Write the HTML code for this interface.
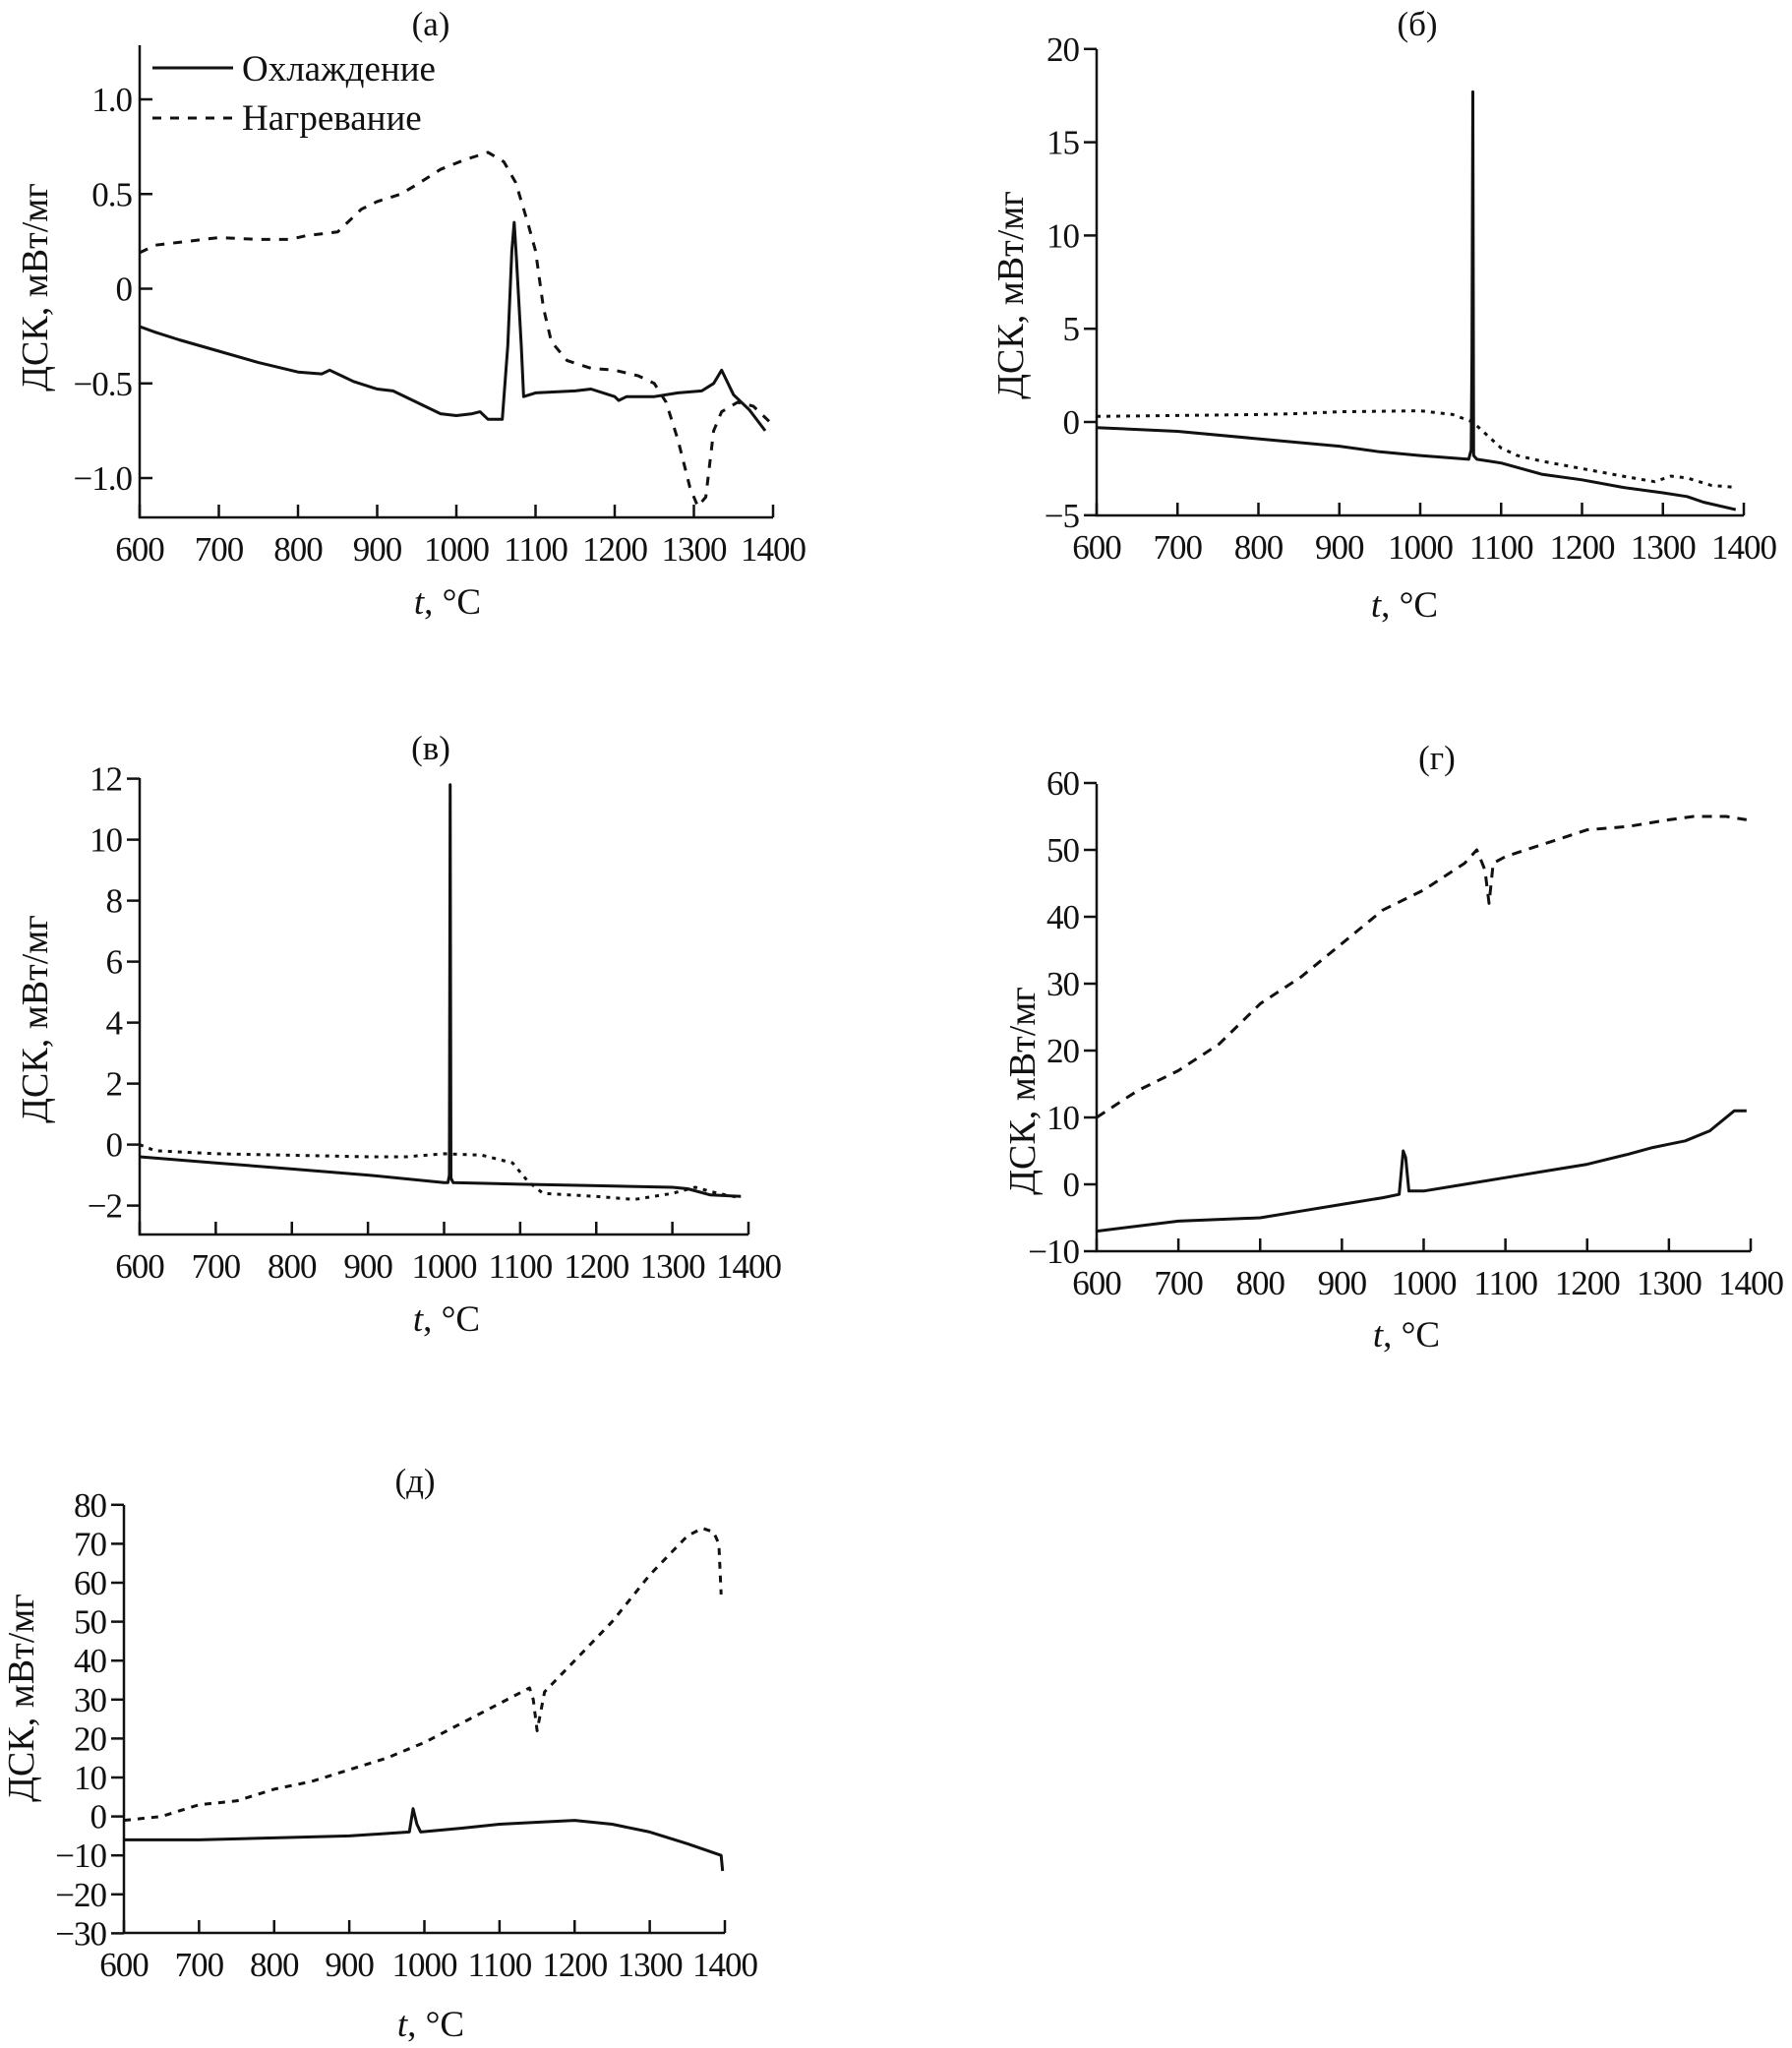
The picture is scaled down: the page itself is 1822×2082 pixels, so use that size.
<!DOCTYPE html>
<html><head><meta charset="utf-8"><style>
html,body{margin:0;padding:0;background:#fff}
svg{display:block}
text{font-family:"Liberation Serif",serif;fill:#111}
</style></head><body>
<svg id="fig" width="1822" height="2082" viewBox="0 0 1822 2082" xmlns="http://www.w3.org/2000/svg"></svg>
<script>
const xTicks=[600,700,800,900,1000,1100,1200,1300,1400];
const aYTicks=[-1.0,-0.5,0,0.5,1.0];
const aYLabels=["\u22121.0","\u22120.5","0","0.5","1.0"];
const bYTicks=[-5,0,5,10,15,20];
const vYTicks=[-2,0,2,4,6,8,10,12];
const gYTicks=[-10,0,10,20,30,40,50,60];
const dYTicks=[-30,-20,-10,0,10,20,30,40,50,60,70,80];

const aCoolT=[600,620,650,700,750,800,830,840,870,900,920,950,980,1000,1020,1030,1040,1058,1065,1070,1073,1076,1082,1085,1100,1150,1170,1200,1205,1215,1250,1280,1310,1325,1335,1350,1370,1390];
const aCoolV=[-0.2,-0.23,-0.27,-0.33,-0.39,-0.44,-0.45,-0.43,-0.49,-0.53,-0.54,-0.6,-0.66,-0.67,-0.66,-0.65,-0.69,-0.69,-0.3,0.2,0.35,0.15,-0.3,-0.57,-0.55,-0.54,-0.53,-0.57,-0.59,-0.57,-0.57,-0.55,-0.54,-0.5,-0.43,-0.56,-0.64,-0.75];
const aHeatT=[600,620,660,700,750,790,810,830,850,880,900,930,950,980,1010,1040,1060,1075,1090,1100,1110,1120,1140,1170,1200,1230,1250,1265,1280,1295,1305,1315,1325,1335,1355,1375,1395];
const aHeatV=[0.19,0.23,0.25,0.27,0.26,0.26,0.28,0.29,0.3,0.42,0.46,0.5,0.55,0.63,0.68,0.72,0.67,0.56,0.35,0.2,-0.1,-0.28,-0.38,-0.42,-0.43,-0.46,-0.5,-0.6,-0.8,-1.05,-1.15,-1.1,-0.75,-0.65,-0.6,-0.62,-0.7];

const bCoolT=[600,700,800,900,950,1000,1060,1063,1064,1065,1066,1070,1100,1150,1200,1250,1300,1330,1350,1390];
const bCoolV=[-0.3,-0.5,-0.9,-1.3,-1.6,-1.8,-2.0,-1.5,3.5,17.7,-1.8,-2.0,-2.2,-2.8,-3.1,-3.5,-3.8,-4.0,-4.3,-4.7];
const bHeatT=[600,700,800,850,900,1000,1040,1065,1080,1100,1120,1150,1200,1250,1290,1310,1330,1360,1390];
const bHeatV=[0.3,0.35,0.4,0.45,0.55,0.6,0.4,0,-0.6,-1.4,-1.8,-2.1,-2.5,-2.9,-3.2,-2.9,-3.0,-3.4,-3.5];

const vCoolT=[600,700,800,900,1000,1005,1007,1008,1009,1012,1100,1200,1300,1320,1350,1390];
const vCoolV=[-0.4,-0.6,-0.8,-1.0,-1.25,-1.25,-1.0,11.8,-1.1,-1.25,-1.3,-1.35,-1.4,-1.45,-1.65,-1.7];
const vHeatT=[600,620,700,800,900,950,1000,1050,1090,1110,1130,1200,1250,1300,1330,1360,1390];
const vHeatV=[0,-0.2,-0.3,-0.35,-0.4,-0.4,-0.3,-0.35,-0.6,-1.2,-1.6,-1.7,-1.8,-1.6,-1.4,-1.6,-1.75];

const gCoolT=[600,700,800,850,900,950,970,975,978,982,1000,1050,1100,1150,1200,1250,1280,1300,1320,1350,1380,1395];
const gCoolV=[-7,-5.5,-5,-4,-3,-2,-1.5,5,4,-1,-1,0,1,2,3,4.5,5.5,6,6.5,8,11,11];
const gHeatT=[600,650,700,750,800,850,900,950,1000,1050,1065,1075,1080,1085,1100,1150,1200,1250,1300,1330,1370,1395];
const gHeatV=[10,14,17,21,27,31,36,41,44,48,50,47,42,48,49,51,53,53.5,54.5,55,55,54.5];

const dCoolT=[600,700,800,900,980,985,990,995,1050,1100,1150,1200,1250,1300,1350,1380,1395,1397];
const dCoolV=[-6,-6,-5.5,-5,-4,2,-2,-4,-3,-2,-1.5,-1,-2,-4,-7,-9,-10,-14];
const dHeatT=[600,650,700,750,800,850,900,950,1000,1050,1100,1140,1145,1150,1160,1200,1250,1300,1350,1370,1385,1392,1395];
const dHeatV=[-1,0,3,4,7,9,12,15,19,24,29,33,30,22,32,40,50,62,72,74,73,70,57];

const NS="http://www.w3.org/2000/svg";
const svg=document.getElementById('fig');
function mk(tag,attrs,parent){const e=document.createElementNS(NS,tag);for(const k in attrs)e.setAttribute(k,attrs[k]);(parent||svg).appendChild(e);return e;}

function panel(p){
  const g=mk('g',{});
  
  
  const sx=t=>p.x0+(t-600)*(p.x1-p.x0)/800;
  const sy=v=>p.y0+(v-p.v0)*(p.y1-p.y0)/(p.v1-p.v0);
  const ax=mk('path',{d:`M${p.x0},${p.top} L${p.x0},${p.bottom} L${p.x1},${p.bottom}`,fill:'none',stroke:'#111','stroke-width':2.5},g);
  
  
  xTicks.forEach(t=>{
    mk('line',{x1:sx(t),x2:sx(t),y1:p.bottom,y2:p.bottom-13,stroke:'#111','stroke-width':2.5},g);
    const tx=mk('text',{x:sx(t),y:p.bottom+44,'text-anchor':'middle','font-size':35,'letter-spacing':-1},g);
    tx.textContent=t;
    
    
  });
  p.yt.forEach((v,i)=>{
    const inward=p.inward;
    mk('line',{x1:p.x0,x2:inward?p.x0+13:p.x0-13,y1:sy(v),y2:sy(v),stroke:'#111','stroke-width':2.5},g);
    const lbl=p.yl?p.yl[i]:(v<0?"\u2212"+Math.abs(v):String(v));
    const tx=mk('text',{x:p.x0-(inward?8:18),y:sy(v)+12,'text-anchor':'end','font-size':35,'letter-spacing':-1},g);
    tx.textContent=lbl;
    
    
  });
  const tt=mk('text',{x:p.tx,y:p.ty,'text-anchor':'middle','font-size':35},g);
  tt.textContent=p.title;
  
  
  const xl=mk('text',{x:p.xlx,y:p.xly,'text-anchor':'middle','font-size':37},g);
  xl.innerHTML='<tspan font-style="italic">t</tspan>, °C';
  
  
  const yl=mk('text',{x:0,y:0,'text-anchor':'middle','font-size':38,transform:`translate(${p.ylx},${p.yly}) rotate(-90)`},g);
  yl.textContent='ДСК, мВт/мг';
  
  
  const line=(T,V,dash,w,name)=>{
    const d=T.map((t,i)=>(i?'L':'M')+sx(t).toFixed(1)+','+sy(V[i]).toFixed(1)).join(' ');
    const e=mk('path',{d:d,fill:'none',stroke:'#111','stroke-width':w,'stroke-dasharray':dash,'stroke-linejoin':'round'},g);
    
    
  };
  line(p.hT,p.hV,p.hdash,3,'heating-series');
  line(p.cT,p.cV,'none',3,'cooling-series');
}

panel({name:'panel-a',x0:142,x1:786,y0:293.5,y1:101,v0:0,v1:1,top:46,bottom:526,yt:aYTicks,yl:aYLabels,inward:true,
  title:'(а)',tx:438,ty:36,xlx:455,xly:624,ylx:48,yly:292,cT:aCoolT,cV:aCoolV,hT:aHeatT,hV:aHeatV,hdash:'9,9'});
panel({name:'panel-b',x0:1115,x1:1773,y0:429,y1:334.2,v0:0,v1:5,top:50,bottom:524,yt:bYTicks,
  title:'(б)',tx:1441,ty:36,xlx:1428,xly:627,ylx:1040,yly:300,cT:bCoolT,cV:bCoolV,hT:bHeatT,hV:bHeatV,hdash:'4,6'});
panel({name:'panel-v',x0:142,x1:761,y0:1163.6,y1:1101.6,v0:0,v1:2,top:791,bottom:1255,yt:vYTicks,
  title:'(в)',tx:438,ty:772,xlx:454,xly:1353,ylx:48,yly:1036,cT:vCoolT,cV:vCoolV,hT:vHeatT,hV:vHeatV,hdash:'4,6'});
panel({name:'panel-g',x0:1115,x1:1780,y0:1204,y1:1136,v0:0,v1:10,top:797,bottom:1272,yt:gYTicks,
  title:'(г)',tx:1461,ty:782,xlx:1430,xly:1369,ylx:1052,yly:1109,cT:gCoolT,cV:gCoolV,hT:gHeatT,hV:gHeatV,hdash:'10,8'});
panel({name:'panel-d',x0:126,x1:737,y0:1846.6,y1:1807,v0:0,v1:10,top:1530,bottom:1965,yt:dYTicks,
  title:'(д)',tx:422,ty:1517,xlx:438,xly:2070,ylx:34,yly:1726,cT:dCoolT,cV:dCoolV,hT:dHeatT,hV:dHeatV,hdash:'7,7'});

const lg=mk('g',{});


mk('line',{x1:155,x2:237,y1:69,y2:69,stroke:'#111','stroke-width':3},lg);
mk('line',{x1:155,x2:237,y1:120,y2:120,stroke:'#111','stroke-width':3,'stroke-dasharray':'9,9'},lg);
const l1=mk('text',{x:246,y:82,'font-size':37},lg);l1.textContent='Охлаждение';


const l2=mk('text',{x:246,y:132,'font-size':37},lg);l2.textContent='Нагревание';


</script>
</body></html>
